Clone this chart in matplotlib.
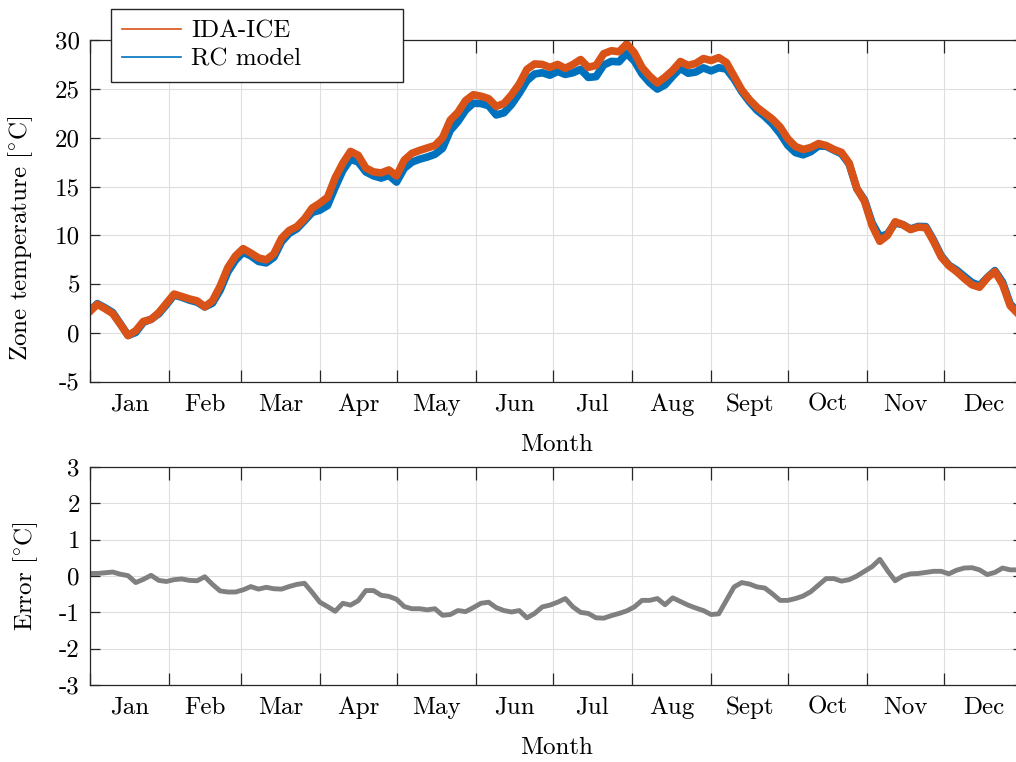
import numpy as np
import matplotlib
matplotlib.use('Agg')
import matplotlib.pyplot as plt
from matplotlib.lines import Line2D

# ---------------------------------------------------------------------------------
# Data (read off the reference, sampled every 3 days)
# ---------------------------------------------------------------------------------
day = np.arange(0, 366, 3)

ida_temp = [2.2, 2.95, 2.5, 2.0, 0.9, -0.25, 0.25, 1.2, 1.4, 2.1,
            3.05, 4.0, 3.75, 3.5, 3.3, 2.7, 3.3, 4.8, 6.7, 7.9,
            8.65, 8.2, 7.7, 7.5, 8.1, 9.7, 10.5, 10.9, 11.7, 12.8,
            13.3, 13.9, 15.9, 17.4, 18.6, 18.2, 16.9, 16.5, 16.4, 16.7,
            16.1, 17.7, 18.4, 18.7, 18.95, 19.2, 20.0, 21.8, 22.6, 23.8,
            24.4, 24.25, 24.0, 23.2, 23.5, 24.4, 25.5, 27.0, 27.55, 27.5,
            27.2, 27.5, 27.1, 27.5, 28.0, 27.2, 27.4, 28.6, 28.9, 28.8,
            29.6, 28.7, 27.2, 26.3, 25.6, 26.2, 26.9, 27.8, 27.4, 27.6,
            28.1, 27.9, 28.2, 27.7, 26.3, 24.9, 23.9, 23.1, 22.5, 21.9,
            21.1, 19.9, 19.1, 18.8, 19.0, 19.4, 19.2, 18.8, 18.5, 17.4,
            14.8, 13.5, 11.0, 9.4, 10.0, 11.4, 11.1, 10.6, 10.85, 10.8,
            9.4, 7.8, 6.9, 6.3, 5.6, 4.95, 4.7, 5.65, 6.3, 5.0,
            2.8, 2.0]

# error = RC model - IDA-ICE
error = [0.07, 0.07, 0.09, 0.11, 0.05, 0.01, -0.18, -0.09, 0.02, -0.12,
         -0.15, -0.1, -0.08, -0.12, -0.13, -0.02, -0.23, -0.41, -0.44, -0.44,
         -0.38, -0.29, -0.36, -0.31, -0.35, -0.36, -0.29, -0.23, -0.2, -0.45,
         -0.72, -0.84, -0.97, -0.75, -0.8, -0.68, -0.4, -0.4, -0.53, -0.56,
         -0.64, -0.84, -0.9, -0.9, -0.93, -0.9, -1.08, -1.06, -0.95, -0.98,
         -0.87, -0.75, -0.72, -0.87, -0.95, -0.99, -0.95, -1.15, -1.03, -0.85,
         -0.8, -0.72, -0.62, -0.85, -1.0, -1.03, -1.15, -1.16, -1.09, -1.03,
         -0.96, -0.85, -0.67, -0.67, -0.62, -0.79, -0.6, -0.7, -0.8, -0.88,
         -0.95, -1.06, -1.04, -0.67, -0.3, -0.18, -0.22, -0.3, -0.33, -0.49,
         -0.67, -0.67, -0.62, -0.55, -0.43, -0.25, -0.07, -0.07, -0.14, -0.1,
         0.0, 0.13, 0.26, 0.46, 0.15, -0.13, 0.0, 0.06, 0.07, 0.1,
         0.13, 0.13, 0.06, 0.16, 0.22, 0.23, 0.17, 0.04, 0.1, 0.22,
         0.17, 0.17]

rc_temp = np.array(ida_temp) + np.array(error)

month_start = [0, 31, 59, 90, 120, 151, 181, 212, 243, 273, 304, 334, 365]
month_names = ['Jan', 'Feb', 'Mar', 'Apr', 'May', 'Jun',
               'Jul', 'Aug', 'Sept', 'Oct', 'Nov', 'Dec']
temp_ticks = [-5, 0, 5, 10, 15, 20, 25, 30]
err_ticks = [-3, -2, -1, 0, 1, 2, 3]

# ---------------------------------------------------------------------------------
# Style
# ---------------------------------------------------------------------------------
plt.rcParams.update({
    'font.family': 'cmr10',
    'mathtext.fontset': 'cm',
    'font.size': 18,
    'axes.unicode_minus': False,
})

ORANGE = '#D95319'
BLUE = '#0072BD'
GRAY = '#808080'
AXCOL = '#262626'


def style_axes(ax, yticks, ylabel, ylab_x, ylab_y, xlab_y):
    mid = [(a + b) / 2 for a, b in zip(month_start[:-1], month_start[1:])]
    ax.set_xlim(0, 365)
    ax.set_xticks(month_start[:-1])
    ax.set_xticklabels([''] * 12)
    ax.set_xticks(mid, minor=True)
    ax.set_xticklabels(month_names, minor=True)
    ax.set_ylim(yticks[0], yticks[-1])
    ax.set_yticks(yticks)
    ax.set_yticklabels([str(t) for t in yticks])
    ax.tick_params(which='major', direction='in', top=True, right=True,
                   color=AXCOL, width=0.9, labelsize=18)
    ax.tick_params(axis='x', which='major', length=9)
    ax.tick_params(axis='y', which='major', length=7, pad=7)
    ax.tick_params(axis='x', which='minor', length=0, pad=8.5, labelsize=18)
    ax.grid(True, which='major', color='#dedede', lw=0.8)
    ax.set_axisbelow(True)
    for s in ax.spines.values():
        s.set_color(AXCOL)
        s.set_linewidth(0.9)
    ax.set_xlabel('Month')
    ax.xaxis.set_label_coords(0.5, xlab_y)
    ax.xaxis.label.set_va('center')
    ax.set_ylabel(ylabel)
    ax.yaxis.set_label_coords(ylab_x, ylab_y)
    ax.yaxis.label.set_va('center')


fig = plt.figure(figsize=(10.16, 7.62), dpi=100)
ax1 = fig.add_axes([0.0883, 0.4987, 0.9186, 0.4488])
ax2 = fig.add_axes([0.0883, 0.1010, 0.9186, 0.2861])

# top: zone temperature
ax1.plot(day, rc_temp, color=BLUE, lw=5.5, solid_joinstyle='round')
ax1.plot(day, ida_temp, color=ORANGE, lw=5.5, solid_joinstyle='round')
style_axes(ax1, temp_ticks, r'Zone temperature $[^{\circ}\mathrm{C}]$', -0.074, 0.42, -0.184)

# bottom: error
ax2.plot(day, error, color=GRAY, lw=3.5, solid_joinstyle='round')
style_axes(ax2, err_ticks, r'Error $[^{\circ}\mathrm{C}]$', -0.069, 0.5, -0.289)

handles = [Line2D([], [], color=ORANGE, lw=1.2), Line2D([], [], color=BLUE, lw=1.2)]
fig.legend(handles, ['IDA-ICE', 'RC model'], loc='upper left',
           bbox_to_anchor=(111 / 1016, 1 - 79 / 762, 292 / 1016, 70 / 762),
           mode='expand', borderaxespad=0, fancybox=False, edgecolor=AXCOL,
           framealpha=1, handlelength=2.35, handletextpad=0.4, borderpad=0.45,
           labelspacing=0.22, fontsize=18)

fig.savefig('out.png', dpi=100)
